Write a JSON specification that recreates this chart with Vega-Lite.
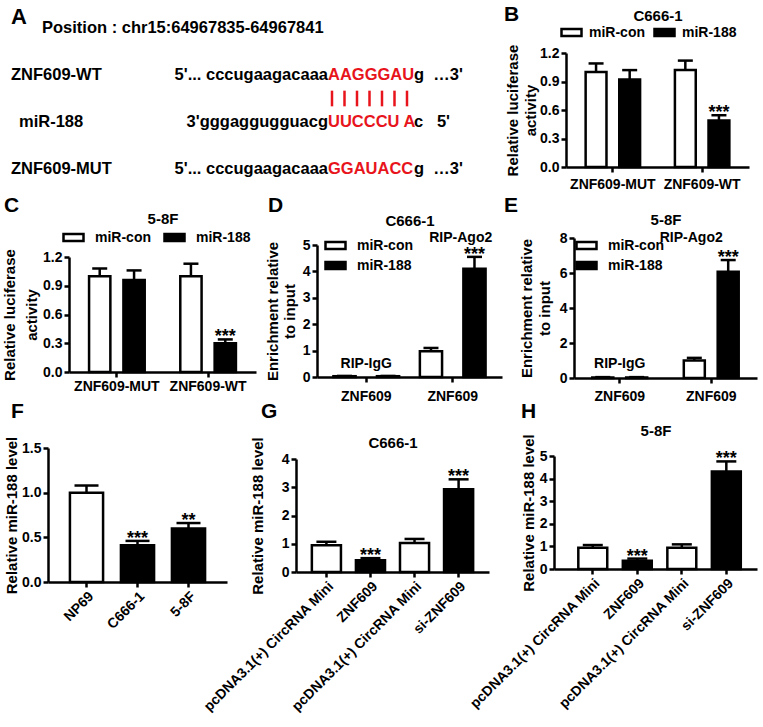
{
 "$schema": "https://vega.github.io/schema/vega-lite/v6.json",
 "padding": {"left": 2, "top": 0, "right": 0, "bottom": 0},
 "columns": 3,
 "align": "each",
 "bounds": "flush",
 "spacing": 0,
 "resolve": {"scale": {"fill": "independent", "xOffset": "independent"}, "legend": {"fill": "independent"}},
 "datasets": {
  "seq": [
   {"line": "WT", "name": "ZNF609-WT", "pre": "5'... cccugaagacaaa", "core": "AAGGGAU", "post": "g\u00a0\u00a0\u20263'"},
   {"line": "miR", "name": "miR-188", "pre": "3'gggaggugguacg", "core": "UUCCCU A", "post": "c\u00a0\u00a0\u00a05'"},
   {"line": "MUT", "name": "ZNF609-MUT", "pre": "5'... cccugaagacaaa", "core": "GGAUACC", "post": "g\u00a0\u00a0\u20263'"}
  ],
  "pairs": [{"pair": 1}, {"pair": 2}, {"pair": 3}, {"pair": 4}, {"pair": 5}, {"pair": 6}, {"pair": 7}]
 },
 "concat": [
  {
   "width": 248, "height": 190,
   "layer": [
    {"data": {"values": [{"row": "lab", "text": "A"}]},
     "mark": {"type": "text", "fontSize": 22, "fontWeight": "bold", "align": "left", "baseline": "middle", "dy": 4.5, "color": "black"},
     "encoding": {
      "x": {"datum": "name", "type": "nominal", "scale": {"type": "point", "domain": ["name", "seam"], "range": [-37, 280], "padding": 0}, "axis": null},
      "y": {"field": "row", "type": "nominal", "scale": {"type": "point", "domain": ["lab", "pos", "p1", "p2", "WT", "pt", "pb", "miR", "m1", "m2", "MUT"], "range": [12.33, 169], "padding": 0}, "axis": null},
      "text": {"field": "text"}}},
    {"data": {"values": [{"row": "pos", "text": "Position : chr15:64967835-64967841"}]},
     "mark": {"type": "text", "fontSize": 16.5, "fontWeight": "bold", "align": "left", "baseline": "middle", "dx": 31, "color": "black"},
     "encoding": {
      "x": {"datum": "name", "type": "nominal", "axis": null},
      "y": {"field": "row", "type": "nominal", "axis": null},
      "text": {"field": "text"}}},
    {"data": {"name": "seq"}, "transform": [{"filter": "datum.line != 'miR'"}],
     "mark": {"type": "text", "fontSize": 16.5, "fontWeight": "bold", "align": "left", "baseline": "middle", "color": "black"},
     "encoding": {
      "x": {"datum": "name", "type": "nominal", "axis": null},
      "y": {"field": "line", "type": "nominal", "axis": null},
      "text": {"field": "name"}}},
    {"data": {"name": "seq"}, "transform": [{"filter": "datum.line == 'miR'"}],
     "mark": {"type": "text", "fontSize": 16.5, "fontWeight": "bold", "align": "left", "baseline": "middle", "dx": 8, "color": "black"},
     "encoding": {
      "x": {"datum": "name", "type": "nominal", "axis": null},
      "y": {"field": "line", "type": "nominal", "axis": null},
      "text": {"field": "name"}}},
    {"data": {"name": "seq"},
     "mark": {"type": "text", "fontSize": 16.5, "fontWeight": "bold", "align": "right", "baseline": "middle", "color": "black"},
     "encoding": {
      "x": {"datum": "seam", "type": "nominal", "axis": null},
      "y": {"field": "line", "type": "nominal", "axis": null},
      "text": {"field": "pre"}}},
    {"data": {"name": "seq"},
     "mark": {"type": "text", "fontSize": 16.5, "fontWeight": "bold", "align": "left", "baseline": "middle", "color": "#e8141c"},
     "encoding": {
      "x": {"datum": "seam", "type": "nominal", "axis": null},
      "y": {"field": "line", "type": "nominal", "axis": null},
      "text": {"field": "core"}}},
    {"data": {"name": "seq"},
     "mark": {"type": "text", "fontSize": 16.5, "fontWeight": "bold", "align": "left", "baseline": "middle", "dx": 86, "color": "black"},
     "encoding": {
      "x": {"datum": "seam", "type": "nominal", "axis": null},
      "y": {"field": "line", "type": "nominal", "axis": null},
      "text": {"field": "post"}}},
    {"data": {"name": "pairs"},
     "mark": {"type": "rule", "stroke": "#e8141c", "strokeWidth": 2.5},
     "encoding": {
      "x": {"datum": "seam", "type": "nominal", "axis": null},
      "xOffset": {"field": "pair", "type": "ordinal", "scale": {"type": "point", "range": [4, 79], "padding": 0}},
      "y": {"datum": "pt", "type": "nominal", "axis": null},
      "y2": {"datum": "pb"}}}
   ]
  },
  {
   "width": 258, "height": 190,
   "data": {"values": [{}]},
   "mark": {"type": "text"},
   "encoding": {"text": {"value": ""}}
  },
  {
   "width": 205, "height": 190,
   "title": {"text": "B", "dx": -50, "dy": 28.5},
   "resolve": {"axis": {"x": "independent", "y": "independent"}},
   "data": {"values": [
    {"grp": "ZNF609-MUT", "trt": "miR-con", "val": 1.0, "err": 1.09, "sig": ""},
    {"grp": "ZNF609-MUT", "trt": "miR-188", "val": 0.92, "err": 1.02, "sig": ""},
    {"grp": "ZNF609-WT", "trt": "miR-con", "val": 1.02, "err": 1.12, "sig": ""},
    {"grp": "ZNF609-WT", "trt": "miR-188", "val": 0.49, "err": 0.545, "sig": "***"}
   ]},
   "layer": [
    {"mark": {"type": "bar", "stroke": "black", "strokeWidth": 2.5, "opacity": 1},
     "encoding": {
      "x": {"field": "grp", "type": "nominal", "sort": null, "scale": {"range": [12, 195], "paddingInner": 0.39, "paddingOuter": 0.22}, "axis": {"orient": "bottom", "offset": -23, "title": null, "labelAngle": 0, "labelPadding": 5}},
      "xOffset": {"field": "trt", "type": "nominal", "sort": ["miR-con", "miR-188"], "scale": {"paddingInner": 0.38, "paddingOuter": 0}},
      "y": {"field": "val", "type": "quantitative", "scale": {"domain": [0, 1.2], "range": [167, 53], "nice": false}, "axis": {"orient": "left", "offset": -12, "values": [0, 0.3, 0.6, 0.9, 1.2], "format": ".1f", "title": ["Relative luciferase", "activity"], "titlePadding": 1, "titleLineHeight": 18}},
      "fill": {"field": "trt", "type": "nominal", "sort": ["miR-con", "miR-188"], "scale": {"domain": ["miR-con", "miR-188"], "range": ["white", "black"]}, "legend": {"orient": "none", "legendX": 6, "legendY": 21, "direction": "horizontal", "title": null, "columnPadding": 4, "labelOffset": 6}}}},
    {"mark": {"type": "rule", "stroke": "black", "strokeWidth": 2.5},
     "encoding": {
      "x": {"field": "grp", "type": "nominal", "sort": null, "axis": null},
      "xOffset": {"field": "trt", "type": "nominal", "sort": ["miR-con", "miR-188"]},
      "y": {"field": "val", "type": "quantitative", "axis": null},
      "y2": {"field": "err"}}},
    {"mark": {"type": "tick", "orient": "horizontal", "color": "black", "thickness": 2.5, "size": 15, "opacity": 1},
     "encoding": {
      "x": {"field": "grp", "type": "nominal", "sort": null, "axis": null},
      "xOffset": {"field": "trt", "type": "nominal", "sort": ["miR-con", "miR-188"]},
      "y": {"field": "err", "type": "quantitative", "axis": null}}},
    {"mark": {"type": "text", "fontSize": 18, "fontWeight": "bold", "baseline": "alphabetic", "dy": 3, "color": "black"},
     "encoding": {
      "x": {"field": "grp", "type": "nominal", "sort": null, "axis": {"orient": "top", "offset": -53, "title": "C666-1", "labels": false, "ticks": false, "domain": false, "titlePadding": 29.5}},
      "xOffset": {"field": "trt", "type": "nominal", "sort": ["miR-con", "miR-188"]},
      "y": {"field": "err", "type": "quantitative", "axis": null},
      "text": {"field": "sig"}}}
   ]
  },
  {
   "width": 248, "height": 188,
   "title": {"text": "C", "dx": -44, "dy": 29.5},
   "resolve": {"axis": {"x": "independent", "y": "independent"}},
   "data": {"values": [
    {"grp": "ZNF609-MUT", "trt": "miR-con", "val": 1.0, "err": 1.08, "sig": ""},
    {"grp": "ZNF609-MUT", "trt": "miR-188", "val": 0.96, "err": 1.06, "sig": ""},
    {"grp": "ZNF609-WT", "trt": "miR-con", "val": 1.0, "err": 1.13, "sig": ""},
    {"grp": "ZNF609-WT", "trt": "miR-188", "val": 0.3, "err": 0.34, "sig": "***"}
   ]},
   "layer": [
    {"mark": {"type": "bar", "stroke": "black", "strokeWidth": 2.5, "opacity": 1},
     "encoding": {
      "x": {"field": "grp", "type": "nominal", "sort": null, "scale": {"range": [21, 208], "paddingInner": 0.39, "paddingOuter": 0.22}, "axis": {"orient": "bottom", "offset": -6, "title": null, "labelAngle": 0, "labelPadding": 2}},
      "xOffset": {"field": "trt", "type": "nominal", "sort": ["miR-con", "miR-188"], "scale": {"paddingInner": 0.38, "paddingOuter": 0}},
      "y": {"field": "val", "type": "quantitative", "scale": {"domain": [0, 1.2], "range": [182, 67], "nice": false}, "axis": {"orient": "left", "offset": -21, "values": [0, 0.3, 0.6, 0.9, 1.2], "format": ".1f", "title": ["Relative luciferase", "activity"], "titlePadding": 3, "titleLineHeight": 22}},
      "fill": {"field": "trt", "type": "nominal", "sort": ["miR-con", "miR-188"], "scale": {"domain": ["miR-con", "miR-188"], "range": ["white", "black"]}, "legend": {"orient": "none", "legendX": 14, "legendY": 36, "direction": "horizontal", "title": null, "columnPadding": 8}}}},
    {"mark": {"type": "rule", "stroke": "black", "strokeWidth": 2.5},
     "encoding": {
      "x": {"field": "grp", "type": "nominal", "sort": null, "axis": null},
      "xOffset": {"field": "trt", "type": "nominal", "sort": ["miR-con", "miR-188"]},
      "y": {"field": "val", "type": "quantitative", "axis": null},
      "y2": {"field": "err"}}},
    {"mark": {"type": "tick", "orient": "horizontal", "color": "black", "thickness": 2.5, "size": 15, "opacity": 1},
     "encoding": {
      "x": {"field": "grp", "type": "nominal", "sort": null, "axis": null},
      "xOffset": {"field": "trt", "type": "nominal", "sort": ["miR-con", "miR-188"]},
      "y": {"field": "err", "type": "quantitative", "axis": null}}},
    {"mark": {"type": "text", "fontSize": 18, "fontWeight": "bold", "baseline": "alphabetic", "dy": 3, "color": "black"},
     "encoding": {
      "x": {"field": "grp", "type": "nominal", "sort": null, "axis": {"orient": "top", "offset": -67, "title": "5-8F", "labels": false, "ticks": false, "domain": false, "titlePadding": 30.5}},
      "xOffset": {"field": "trt", "type": "nominal", "sort": ["miR-con", "miR-188"]},
      "y": {"field": "err", "type": "quantitative", "axis": null},
      "text": {"field": "sig"}}}
   ]
  },
  {
   "width": 258, "height": 188,
   "title": {"text": "D", "dx": -28, "dy": 29.5},
   "resolve": {"axis": {"x": "independent", "y": "independent"}},
   "data": {"values": [
    {"grp": "RIP-IgG", "trt": "miR-con", "val": 0.03, "err": 0.04, "sig": ""},
    {"grp": "RIP-IgG", "trt": "miR-188", "val": 0.03, "err": 0.04, "sig": ""},
    {"grp": "RIP-Ago2", "trt": "miR-con", "val": 0.98, "err": 1.1, "sig": ""},
    {"grp": "RIP-Ago2", "trt": "miR-188", "val": 4.1, "err": 4.55, "sig": "***"}
   ]},
   "layer": [
    {"mark": {"type": "bar", "stroke": "black", "strokeWidth": 2.5, "opacity": 1},
     "encoding": {
      "x": {"field": "grp", "type": "nominal", "sort": null, "scale": {"range": [21, 206], "paddingInner": 0.24, "paddingOuter": 0.19}, "axis": {"orient": "bottom", "offset": -1, "title": null, "labelAngle": 0, "labelExpr": "'ZNF609'", "labelPadding": 7}},
      "xOffset": {"field": "trt", "type": "nominal", "sort": ["miR-con", "miR-188"], "scale": {"paddingInner": 0.49, "paddingOuter": 0}},
      "y": {"field": "val", "type": "quantitative", "scale": {"domain": [0, 5], "range": [187, 55], "nice": false}, "axis": {"orient": "left", "offset": -21, "values": [0, 1, 2, 3, 4, 5], "format": "d", "title": ["Enrichment relative", "to input"], "titlePadding": 5, "titleLineHeight": 17}},
      "fill": {"field": "trt", "type": "nominal", "sort": ["miR-con", "miR-188"], "scale": {"domain": ["miR-con", "miR-188"], "range": ["white", "black"]}, "legend": {"orient": "none", "legendX": 28, "legendY": 44, "direction": "vertical", "title": null, "rowPadding": 0}}}},
    {"mark": {"type": "rule", "stroke": "black", "strokeWidth": 2.5},
     "encoding": {
      "x": {"field": "grp", "type": "nominal", "sort": null, "axis": null},
      "xOffset": {"field": "trt", "type": "nominal", "sort": ["miR-con", "miR-188"]},
      "y": {"field": "val", "type": "quantitative", "axis": null},
      "y2": {"field": "err"}}},
    {"mark": {"type": "tick", "orient": "horizontal", "color": "black", "thickness": 2.5, "size": 15, "opacity": 1},
     "encoding": {
      "x": {"field": "grp", "type": "nominal", "sort": null, "axis": null},
      "xOffset": {"field": "trt", "type": "nominal", "sort": ["miR-con", "miR-188"]},
      "y": {"field": "err", "type": "quantitative", "axis": null}}},
    {"mark": {"type": "text", "fontSize": 18, "fontWeight": "bold", "baseline": "alphabetic", "dy": 3, "color": "black"},
     "encoding": {
      "x": {"field": "grp", "type": "nominal", "sort": null, "axis": {"orient": "top", "offset": -55, "title": "C666-1", "labels": false, "ticks": false, "domain": false, "titlePadding": 16.5}},
      "xOffset": {"field": "trt", "type": "nominal", "sort": ["miR-con", "miR-188"]},
      "y": {"field": "err", "type": "quantitative", "axis": null},
      "text": {"field": "sig"}}},
    {"transform": [{"filter": "datum.trt == 'miR-188' && datum.grp == 'RIP-IgG'"}],
     "mark": {"type": "text", "fontSize": 14, "fontWeight": "bold", "baseline": "bottom", "dy": -5, "color": "black"},
     "encoding": {
      "x": {"field": "grp", "type": "nominal", "sort": null, "axis": null},
      "y": {"field": "err", "type": "quantitative", "axis": null},
      "text": {"field": "grp"}}},
    {"transform": [{"filter": "datum.trt == 'miR-188' && datum.grp == 'RIP-Ago2'"}],
     "mark": {"type": "text", "fontSize": 14, "fontWeight": "bold", "baseline": "bottom", "dy": -12, "dx": 8, "color": "black"},
     "encoding": {
      "x": {"field": "grp", "type": "nominal", "sort": null, "axis": null},
      "y": {"field": "err", "type": "quantitative", "axis": null},
      "text": {"field": "grp"}}}
   ]
  },
  {
   "width": 205, "height": 188,
   "title": {"text": "E", "dx": -50, "dy": 29.5},
   "resolve": {"axis": {"x": "independent", "y": "independent"}},
   "data": {"values": [
    {"grp": "RIP-IgG", "trt": "miR-con", "val": 0.03, "err": 0.05, "sig": ""},
    {"grp": "RIP-IgG", "trt": "miR-188", "val": 0.03, "err": 0.05, "sig": ""},
    {"grp": "RIP-Ago2", "trt": "miR-con", "val": 1.0, "err": 1.15, "sig": ""},
    {"grp": "RIP-Ago2", "trt": "miR-188", "val": 6.07, "err": 6.74, "sig": "***"}
   ]},
   "layer": [
    {"mark": {"type": "bar", "stroke": "black", "strokeWidth": 2.5, "opacity": 1},
     "encoding": {
      "x": {"field": "grp", "type": "nominal", "sort": null, "scale": {"range": [20, 203], "paddingInner": 0.4, "paddingOuter": 0.2}, "axis": {"orient": "bottom", "offset": 0, "title": null, "labelAngle": 0, "labelExpr": "'ZNF609'", "labelPadding": 6}},
      "xOffset": {"field": "trt", "type": "nominal", "sort": ["miR-con", "miR-188"], "scale": {"paddingInner": 0.38, "paddingOuter": 0}},
      "y": {"field": "val", "type": "quantitative", "scale": {"domain": [0, 8], "range": [188, 48], "nice": false}, "axis": {"orient": "left", "offset": -20, "values": [0, 2, 4, 6, 8], "format": "d", "title": ["Enrichment relative", "to input"], "titlePadding": 6.5, "titleLineHeight": 18}},
      "fill": {"field": "trt", "type": "nominal", "sort": ["miR-con", "miR-188"], "scale": {"domain": ["miR-con", "miR-188"], "range": ["white", "black"]}, "legend": {"orient": "none", "legendX": 21, "legendY": 44, "direction": "vertical", "title": null, "rowPadding": 0}}}},
    {"mark": {"type": "rule", "stroke": "black", "strokeWidth": 2.5},
     "encoding": {
      "x": {"field": "grp", "type": "nominal", "sort": null, "axis": null},
      "xOffset": {"field": "trt", "type": "nominal", "sort": ["miR-con", "miR-188"]},
      "y": {"field": "val", "type": "quantitative", "axis": null},
      "y2": {"field": "err"}}},
    {"mark": {"type": "tick", "orient": "horizontal", "color": "black", "thickness": 2.5, "size": 15, "opacity": 1},
     "encoding": {
      "x": {"field": "grp", "type": "nominal", "sort": null, "axis": null},
      "xOffset": {"field": "trt", "type": "nominal", "sort": ["miR-con", "miR-188"]},
      "y": {"field": "err", "type": "quantitative", "axis": null}}},
    {"mark": {"type": "text", "fontSize": 18, "fontWeight": "bold", "baseline": "alphabetic", "dy": 3, "color": "black"},
     "encoding": {
      "x": {"field": "grp", "type": "nominal", "sort": null, "axis": {"orient": "top", "offset": -48, "title": "5-8F", "labels": false, "ticks": false, "domain": false, "titlePadding": 11}},
      "xOffset": {"field": "trt", "type": "nominal", "sort": ["miR-con", "miR-188"]},
      "y": {"field": "err", "type": "quantitative", "axis": null},
      "text": {"field": "sig"}}},
    {"transform": [{"filter": "datum.trt == 'miR-188' && datum.grp == 'RIP-IgG'"}],
     "mark": {"type": "text", "fontSize": 14, "fontWeight": "bold", "baseline": "bottom", "dy": -6, "color": "black"},
     "encoding": {
      "x": {"field": "grp", "type": "nominal", "sort": null, "axis": null},
      "y": {"field": "err", "type": "quantitative", "axis": null},
      "text": {"field": "grp"}}},
    {"transform": [{"filter": "datum.trt == 'miR-188' && datum.grp == 'RIP-Ago2'"}],
     "mark": {"type": "text", "fontSize": 14, "fontWeight": "bold", "baseline": "bottom", "dy": -15, "dx": -20, "color": "black"},
     "encoding": {
      "x": {"field": "grp", "type": "nominal", "sort": null, "axis": null},
      "y": {"field": "err", "type": "quantitative", "axis": null},
      "text": {"field": "grp"}}}
   ]
  },
  {
   "width": 248, "height": 204,
   "title": {"text": "F", "dx": -37, "dy": 47.5},
   "resolve": {"axis": {"x": "independent", "y": "independent"}},
   "data": {"values": [
    {"grp": "NP69", "kind": "control", "val": 1.0, "err": 1.08, "sig": ""},
    {"grp": "C666-1", "kind": "treated", "val": 0.41, "err": 0.46, "sig": "***"},
    {"grp": "5-8F", "kind": "treated", "val": 0.6, "err": 0.66, "sig": "**"}
   ]},
   "layer": [
    {"mark": {"type": "bar", "stroke": "black", "strokeWidth": 2.5, "opacity": 1},
     "encoding": {
      "x": {"field": "grp", "type": "nominal", "sort": null, "scale": {"range": [0, 179], "paddingInner": 0.35, "paddingOuter": 0.43}, "axis": {"orient": "bottom", "offset": 0, "title": null, "labelAngle": -45, "labelAlign": "right", "labelBaseline": "top"}},
      "y": {"field": "val", "type": "quantitative", "scale": {"domain": [0, 1.5], "range": [204, 70], "nice": false}, "axis": {"orient": "left", "offset": 0, "values": [0, 0.5, 1, 1.5], "format": ".1f", "title": "Relative miR-188 level", "titlePadding": 2}},
      "fill": {"field": "kind", "type": "nominal", "scale": {"domain": ["control", "treated"], "range": ["white", "black"]}, "legend": null}}},
    {"mark": {"type": "rule", "stroke": "black", "strokeWidth": 2.5},
     "encoding": {
      "x": {"field": "grp", "type": "nominal", "sort": null, "axis": null},
      "y": {"field": "val", "type": "quantitative", "axis": null},
      "y2": {"field": "err"}}},
    {"mark": {"type": "tick", "orient": "horizontal", "color": "black", "thickness": 2.5, "size": 24, "opacity": 1},
     "encoding": {
      "x": {"field": "grp", "type": "nominal", "sort": null, "axis": null},
      "y": {"field": "err", "type": "quantitative", "axis": null}}},
    {"mark": {"type": "text", "fontSize": 18, "fontWeight": "bold", "baseline": "alphabetic", "dy": 3, "color": "black"},
     "encoding": {
      "x": {"field": "grp", "type": "nominal", "sort": null, "axis": null},
      "y": {"field": "err", "type": "quantitative", "axis": null},
      "text": {"field": "sig"}}}
   ]
  },
  {
   "width": 258, "height": 204,
   "title": {"text": "G", "dx": -35, "dy": 47.5},
   "resolve": {"axis": {"x": "independent", "y": "independent"}},
   "data": {"values": [
    {"grp": "pcDNA3.1(+) CircRNA Mini|1", "kind": "control", "val": 0.95, "err": 1.07, "sig": ""},
    {"grp": "ZNF609", "kind": "treated", "val": 0.42, "err": 0.49, "sig": "***"},
    {"grp": "pcDNA3.1(+) CircRNA Mini|2", "kind": "control", "val": 1.03, "err": 1.17, "sig": ""},
    {"grp": "si-ZNF609", "kind": "treated", "val": 2.93, "err": 3.28, "sig": "***"}
   ]},
   "layer": [
    {"mark": {"type": "bar", "stroke": "black", "strokeWidth": 2.5, "opacity": 1},
     "encoding": {
      "x": {"field": "grp", "type": "nominal", "sort": null, "scale": {"range": [0, 193], "paddingInner": 0.34, "paddingOuter": 0.36}, "axis": {"orient": "bottom", "offset": -10, "title": null, "labelAngle": -45, "labelAlign": "right", "labelBaseline": "top", "labelExpr": "split(datum.value, '|')[0]"}},
      "y": {"field": "val", "type": "quantitative", "scale": {"domain": [0, 4], "range": [194, 81], "nice": false}, "axis": {"orient": "left", "offset": 0, "values": [0, 1, 2, 3, 4], "format": "d", "title": "Relative miR-188 level", "titlePadding": 16}},
      "fill": {"field": "kind", "type": "nominal", "scale": {"domain": ["control", "treated"], "range": ["white", "black"]}, "legend": null}}},
    {"mark": {"type": "rule", "stroke": "black", "strokeWidth": 2.5},
     "encoding": {
      "x": {"field": "grp", "type": "nominal", "sort": null, "axis": null},
      "y": {"field": "val", "type": "quantitative", "axis": null},
      "y2": {"field": "err"}}},
    {"mark": {"type": "tick", "orient": "horizontal", "color": "black", "thickness": 2.5, "size": 20, "opacity": 1},
     "encoding": {
      "x": {"field": "grp", "type": "nominal", "sort": null, "axis": null},
      "y": {"field": "err", "type": "quantitative", "axis": null}}},
    {"mark": {"type": "text", "fontSize": 18, "fontWeight": "bold", "baseline": "alphabetic", "dy": 3, "color": "black"},
     "encoding": {
      "x": {"field": "grp", "type": "nominal", "sort": null, "axis": {"orient": "top", "offset": -81, "title": "C666-1", "labels": false, "ticks": false, "domain": false, "titlePadding": 8.5}},
      "y": {"field": "err", "type": "quantitative", "axis": null},
      "text": {"field": "sig"}}}
   ]
  },
  {
   "width": 205, "height": 204,
   "title": {"text": "H", "dx": -33, "dy": 47.5},
   "resolve": {"axis": {"x": "independent", "y": "independent"}},
   "data": {"values": [
    {"grp": "pcDNA3.1(+) CircRNA Mini|1", "kind": "control", "val": 0.94, "err": 1.06, "sig": ""},
    {"grp": "ZNF609", "kind": "treated", "val": 0.37, "err": 0.46, "sig": "***"},
    {"grp": "pcDNA3.1(+) CircRNA Mini|2", "kind": "control", "val": 0.94, "err": 1.09, "sig": ""},
    {"grp": "si-ZNF609", "kind": "treated", "val": 4.31, "err": 4.76, "sig": "***"}
   ]},
   "layer": [
    {"mark": {"type": "bar", "stroke": "black", "strokeWidth": 2.5, "opacity": 1},
     "encoding": {
      "x": {"field": "grp", "type": "nominal", "sort": null, "scale": {"range": [0, 203], "paddingInner": 0.35, "paddingOuter": 0.455, "align": 0.6}, "axis": {"orient": "bottom", "offset": -13, "title": null, "labelAngle": -45, "labelAlign": "right", "labelBaseline": "top", "labelExpr": "split(datum.value, '|')[0]"}},
      "y": {"field": "val", "type": "quantitative", "scale": {"domain": [0, 5], "range": [191, 78], "nice": false}, "axis": {"orient": "left", "offset": 0, "values": [0, 1, 2, 3, 4, 5], "format": "d", "title": "Relative miR-188 level", "titlePadding": 3}},
      "fill": {"field": "kind", "type": "nominal", "scale": {"domain": ["control", "treated"], "range": ["white", "black"]}, "legend": null}}},
    {"mark": {"type": "rule", "stroke": "black", "strokeWidth": 2.5},
     "encoding": {
      "x": {"field": "grp", "type": "nominal", "sort": null, "axis": null},
      "y": {"field": "val", "type": "quantitative", "axis": null},
      "y2": {"field": "err"}}},
    {"mark": {"type": "tick", "orient": "horizontal", "color": "black", "thickness": 2.5, "size": 20, "opacity": 1},
     "encoding": {
      "x": {"field": "grp", "type": "nominal", "sort": null, "axis": null},
      "y": {"field": "err", "type": "quantitative", "axis": null}}},
    {"mark": {"type": "text", "fontSize": 18, "fontWeight": "bold", "baseline": "alphabetic", "dy": 3, "color": "black"},
     "encoding": {
      "x": {"field": "grp", "type": "nominal", "sort": null, "axis": {"orient": "top", "offset": -78, "title": "5-8F", "labels": false, "ticks": false, "domain": false, "titlePadding": 17.5}},
      "y": {"field": "err", "type": "quantitative", "axis": null},
      "text": {"field": "sig"}}}
   ]
  }
 ],
 "config": {
  "view": {"stroke": null},
  "font": "Liberation Sans",
  "axis": {
   "domainColor": "black", "domainWidth": 2.5, "tickColor": "black", "tickWidth": 2.5, "tickSize": 5,
   "labelFont": "Liberation Sans", "labelFontWeight": "bold", "labelFontSize": 14, "labelColor": "black", "labelPadding": 2,
   "titleFont": "Liberation Sans", "titleFontWeight": "bold", "titleFontSize": 15, "titleColor": "black", "grid": false
  },
  "title": {"font": "Liberation Sans", "fontWeight": "bold", "fontSize": 21, "color": "black", "anchor": "start", "frame": "group", "offset": 0},
  "legend": {
   "symbolType": "M-1,-0.35H1V0.35H-1Z", "symbolSize": 400, "symbolStrokeColor": "black", "symbolStrokeWidth": 2.5, "symbolOpacity": 1,
   "labelFont": "Liberation Sans", "labelFontSize": 14, "labelFontWeight": "bold", "labelColor": "black", "labelOffset": 10, "padding": 0
  }
 }
}
